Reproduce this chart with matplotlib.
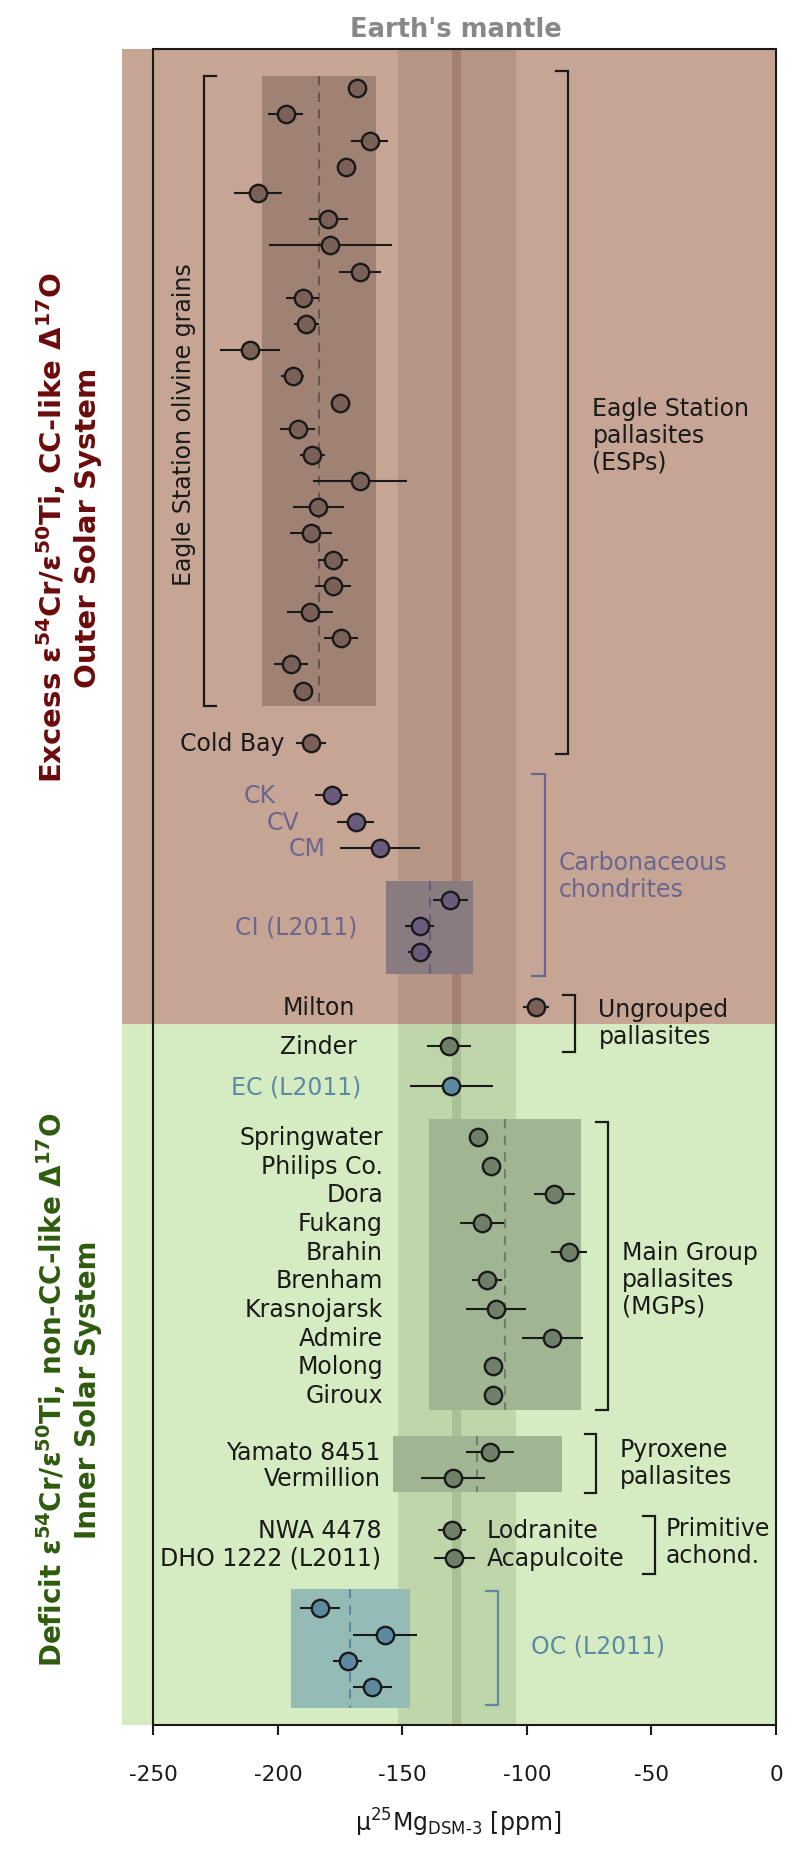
import matplotlib
matplotlib.use('Agg')
import matplotlib.pyplot as plt
from matplotlib.patches import Rectangle

plt.rcParams['font.family'] = ['DejaVu Sans']
plt.rcParams['mathtext.default'] = 'regular'
plt.rcParams['axes.unicode_minus'] = False

# ---- data (mu25Mg, ppm) ----
# Eagle Station olivine grains, top to bottom
esp_x = [-168.1, -196.9, -163.2, -172.5, -207.9, -179.8, -178.9, -167.0, -190.0, -188.6,
         -211.1, -194.1, -175.2, -192.0, -186.2, -167.0, -183.8, -186.6, -177.9, -177.8,
         -187.2, -174.6, -194.9, -190.0]
esp_err = [3.5, 7.0, 7.5, 3.0, 9.7, 7.8, 24.8, 8.5, 6.7, 5.0,
           12.0, 4.5, 3.0, 7.0, 5.0, 18.9, 10.3, 8.4, 6.0, 7.1,
           9.2, 6.7, 6.8, 3.8]
esp_mean, esp_lo, esp_hi = -183.5, -206.5, -160.5

cold_bay = (-186.6, 6.0)

cc_names = ['CK', 'CV', 'CM']
cc_x = [-178.4, -168.8, -159.0]
cc_err = [6.6, 7.5, 16.1]

ci_x = [-130.8, -143.1, -143.1]
ci_err = [7.1, 5.8, 4.8]
ci_mean, ci_lo, ci_hi = -139.1, -156.5, -121.7

milton = (-96.5, 5.2)
zinder = (-131.4, 8.8)
ec = (-130.4, 16.6)

mgp_names = ['Springwater', 'Philips Co.', 'Dora', 'Fukang', 'Brahin', 'Brenham',
             'Krasnojarsk', 'Admire', 'Molong', 'Giroux']
mgp_x = [-119.6, -114.5, -89.1, -118.0, -83.1, -116.0, -112.3, -89.8, -113.6, -113.6]
mgp_err = [3.0, 3.0, 8.2, 8.9, 7.4, 5.9, 12.0, 12.3, 3.0, 3.0]
mgp_mean, mgp_lo, mgp_hi = -108.9, -139.5, -78.4

pyx_names = ['Yamato 8451', 'Vermillion']
pyx_x = [-114.7, -129.7]
pyx_err = [9.6, 12.8]
pyx_mean, pyx_lo, pyx_hi = -119.9, -153.8, -85.9

prim_names = ['NWA 4478', 'DHO 1222 (L2011)']
prim_types = ['Lodranite', 'Acapulcoite']
prim_x = [-130.1, -129.2]
prim_err = [5.7, 8.3]

oc_x = [-183.2, -157.0, -172.0, -162.1]
oc_err = [8.0, 12.9, 5.9, 7.9]
oc_mean, oc_lo, oc_hi = -171.1, -194.9, -147.1

mantle, mantle_line, mantle_band = -128.2, 1.9, 23.7

# row positions (top = 0)
esp_rows = list(range(24))
cold_bay_row = 25
cc_rows = [27, 28, 29]
ci_rows = [31, 32, 33]
milton_row, zinder_row, ec_row = 35.1, 36.56, 38.1
mgp_rows = [40.05, 41.14, 42.24, 43.33, 44.43, 45.52, 46.61, 47.71, 48.8, 49.89]
pyx_rows = [52.06, 53.06]
prim_rows = [55.04, 56.12]
oc_rows = [58.04, 59.05, 60.04, 61.06]
split_row = 35.75

# ---- colours ----
brown_bg, green_bg = '#c6a594', '#d5ebc1'
band_brown, band_green = '#b59584', '#bfd6aa'
line_brown, line_green = '#a48070', '#a9bf96'
c_esp, c_cc, c_pal, c_blue = '#7a6056', '#6a5a7d', '#6f8069', '#5c89a0'
dark = '#1a1a1a'
cc_text, blue_text = '#6a6690', '#5b8aa5'

fig = plt.figure(figsize=(8, 18.58), dpi=100)
ax = fig.add_axes([0.1917, 0.07104, 0.7783, 0.90205])
ax.set_xlim(-250, 0)
ax.set_ylim(62.5, -1.5)
top, bottom = -1.5, 62.5

# backgrounds (extend a little left of the frame)
ax.add_patch(Rectangle((-262.5, top), 262.5, split_row - top, fc=brown_bg, lw=0,
                       clip_on=False, zorder=0))
ax.add_patch(Rectangle((-262.5, split_row), 262.5, bottom - split_row, fc=green_bg, lw=0,
                       clip_on=False, zorder=0))

# Earth's mantle band
for y0, y1, cb, cl in [(top, split_row, band_brown, line_brown),
                       (split_row, bottom, band_green, line_green)]:
    ax.add_patch(Rectangle((mantle - mantle_band, y0), 2 * mantle_band, y1 - y0,
                           fc=cb, lw=0, zorder=1))
    ax.add_patch(Rectangle((mantle - mantle_line, y0), 2 * mantle_line, y1 - y0,
                           fc=cl, lw=0, zorder=2))


def box(lo, hi, y0, y1, mean, fill, dash):
    ax.add_patch(Rectangle((lo, y0), hi - lo, y1 - y0, fc=fill, lw=0, zorder=3))
    ax.plot([mean, mean], [y0, y1], color=dash, lw=1.5, dashes=(4.5, 3.5), zorder=4)


box(esp_lo, esp_hi, -0.46, 23.6, esp_mean, '#a08274', '#6b564c')
box(ci_lo, ci_hi, 30.28, 33.81, ci_mean, '#8a7b80', c_cc)
box(mgp_lo, mgp_hi, 39.35, 50.49, mgp_mean, '#a0b692', c_pal)
box(pyx_lo, pyx_hi, 51.45, 53.61, pyx_mean, '#a0b692', c_pal)
box(oc_lo, oc_hi, 57.3, 61.86, oc_mean, '#94bbb6', c_blue)


def pts(x, y, err, color):
    ax.errorbar(x, y, xerr=err, fmt='o', ms=12.5, mfc=color, mec=dark, mew=1.7,
                ecolor=dark, elinewidth=1.5, capsize=0, zorder=5)


pts(esp_x, esp_rows, esp_err, c_esp)
pts([cold_bay[0]], [cold_bay_row], [cold_bay[1]], c_esp)
pts(cc_x, cc_rows, cc_err, c_cc)
pts(ci_x, ci_rows, ci_err, c_cc)
pts([milton[0]], [milton_row], [milton[1]], c_esp)
pts([zinder[0]], [zinder_row], [zinder[1]], c_pal)
pts([ec[0]], [ec_row], [ec[1]], c_blue)
pts(mgp_x, mgp_rows, mgp_err, c_pal)
pts(pyx_x, pyx_rows, pyx_err, c_pal)
pts(prim_x, prim_rows, prim_err, c_pal)
pts(oc_x, oc_rows, oc_err, c_blue)


def bracket(x, y0, y1, tick, color=dark):
    ax.plot([x + tick, x, x, x + tick], [y0, y0, y1, y1], color=color, lw=1.6,
            solid_joinstyle='miter', zorder=4)


bracket(-229.5, -0.48, 23.57, 4.8)
bracket(-83.6, -0.66, 25.42, -4.8)
bracket(-92.8, 26.18, 33.9, -5.1, cc_text)
bracket(-80.8, 34.62, 36.81, -4.9)
bracket(-67.6, 39.46, 50.49, -4.7)
bracket(-72.3, 51.38, 53.63, -4.5)
bracket(-48.4, 54.5, 56.73, -4.9)
bracket(-111.6, 57.38, 61.75, -5.0, blue_text)

fs = 17


def lab(x, y, s, color=dark, ha='right', **kw):
    ax.text(x, y, s, ha=ha, va='center', fontsize=fs, color=color, zorder=6, **kw)


lab(-197.5, cold_bay_row, 'Cold Bay')
for name, x, r in zip(cc_names, [-200.7, -191.6, -181.0], cc_rows):
    lab(x, r, name, cc_text)
lab(-168.0, ci_rows[1], 'CI (L2011)', cc_text)
lab(-169.2, milton_row, 'Milton')
lab(-168.3, zinder_row, 'Zinder')
lab(-166.5, ec_row, 'EC (L2011)', blue_text)
for name, r in zip(mgp_names, mgp_rows):
    lab(-157.8, r, name)
for name, r in zip(pyx_names, pyx_rows):
    lab(-158.8, r, name)
for name, r in zip(prim_names, prim_rows):
    lab(-158.4, r, name)
for name, r in zip(prim_types, prim_rows):
    lab(-116.0, r, name, ha='left')

lab(-73.7, 13.24, 'Eagle Station\npallasites\n(ESPs)', ha='left', linespacing=1.15)
lab(-87.4, 30.07, 'Carbonaceous\nchondrites', cc_text, ha='left', linespacing=1.15)
lab(-71.3, 35.66, 'Ungrouped\npallasites', ha='left', linespacing=1.15)
lab(-62.0, 45.46, 'Main Group\npallasites\n(MGPs)', ha='left', linespacing=1.15)
lab(-62.7, 52.48, 'Pyroxene\npallasites', ha='left', linespacing=1.15)
lab(-44.2, 55.5, 'Primitive\nachond.', ha='left', linespacing=1.15)
lab(-98.3, 59.47, 'OC (L2011)', blue_text, ha='left')
ax.text(-237.5, 12.8, 'Eagle Station olivine grains', rotation=90, ha='center',
        va='center', fontsize=fs, color=dark, zorder=6)

# frame and axis
for sp in ax.spines.values():
    sp.set_linewidth(1.5)
    sp.set_color(dark)
    sp.set_zorder(7)
ax.set_yticks([])
ax.set_xticks([-250, -200, -150, -100, -50, 0])
ax.tick_params(axis='x', length=7.2, width=1.5, pad=21, labelsize=15.5, colors=dark)

fig.text(458 / 800, 1 - 1832 / 1858, 'μ$^{25}$Mg$_{DSM\u20103}$ [ppm]', ha='center',
         va='baseline', fontsize=fs, color=dark)
fig.text(455.6 / 800, 1 - 30 / 1858, "Earth's mantle", ha='center', va='center',
         fontsize=18.5, fontweight='bold', color='#888888')
fig.text(0.085, 1 - 528 / 1858, 'Excess ε$^{54}$Cr/ε$^{50}$Ti, CC-like Δ$^{17}$O\nOuter Solar System',
         rotation=90, ha='center', va='center', multialignment='center', fontsize=21,
         fontweight='bold', color='#6b0b0b', linespacing=1.3)
fig.text(0.085, 1 - 1390 / 1858, 'Deficit ε$^{54}$Cr/ε$^{50}$Ti, non-CC-like Δ$^{17}$O\nInner Solar System',
         rotation=90, ha='center', va='center', multialignment='center', fontsize=20,
         fontweight='bold', color='#2e5b0e', linespacing=1.3)

fig.savefig('out.png', dpi=100)
